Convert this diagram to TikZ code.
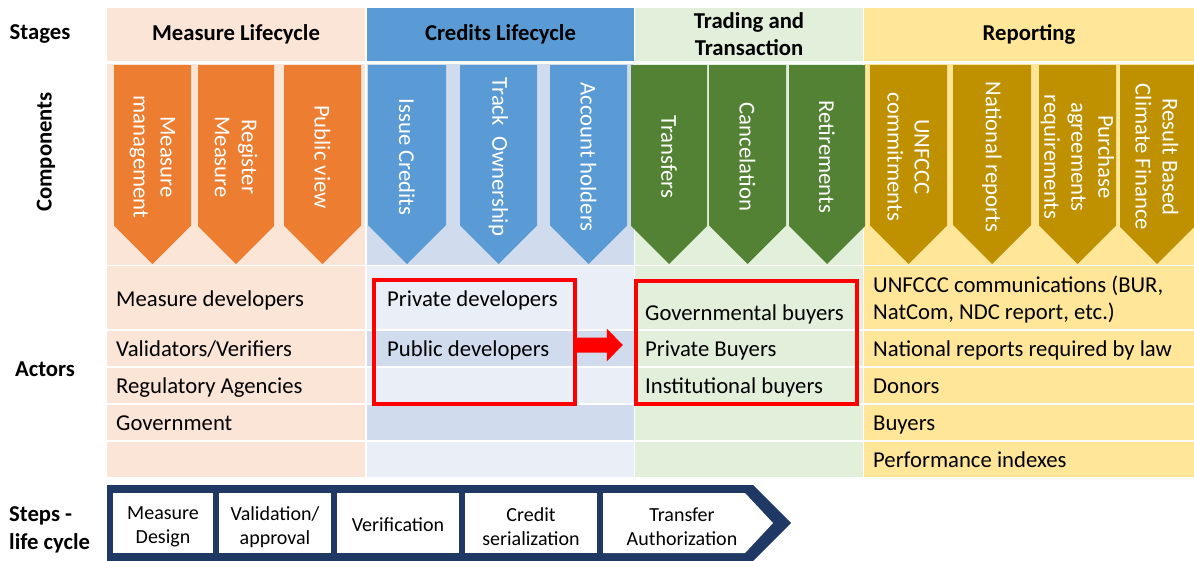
\documentclass[tikz,border=0pt]{standalone}
\usepackage{fontspec}
\setmainfont{Carlito}
\definecolor{measurebg}{HTML}{FBE5D6}
\definecolor{measurearr}{HTML}{ED7D31}
\definecolor{creditshead}{HTML}{5B9BD5}
\definecolor{creditdark}{HTML}{D0DCEE}
\definecolor{creditlight}{HTML}{E9EEF7}
\definecolor{tradebg}{HTML}{E2EFDA}
\definecolor{tradearr}{HTML}{548235}
\definecolor{reportbg}{HTML}{FFE699}
\definecolor{reportarr}{HTML}{BF9000}
\definecolor{stepnavy}{HTML}{203864}
\newcommand{\comparrow}[5]{%
  \fill[#3] (#1,65) -- (#2,65) -- (#2,{264-(#2-#1)/2}) -- ({(#1+#2)/2},264) -- (#1,{264-(#2-#1)/2}) -- cycle;
  \node[comptext] (#4) at ({(#1+#2)/2},157) {#5};}
\begin{document}
\begin{tikzpicture}[x=1pt, y=-1pt,
    every node/.style={font=\fontsize{22.7}{27}\selectfont, inner sep=0pt},
    stagehead/.style={font=\fontsize{22.7}{27}\selectfont\bfseries, align=center, minimum height=53pt},
    rowlabel/.style={anchor=west, text height=17.5pt, text depth=2.5pt},
    comptext/.style={rotate=-90, text=white, align=center},
    sidelabel/.style={font=\fontsize{22.7}{28}\selectfont\bfseries},
    stepbox/.style={fill=white, minimum height=60pt},
    steptext/.style={align=center, font=\fontsize{20}{24}\selectfont},
    redbox/.style={draw=red, line width=3.5pt, minimum width=201pt, minimum height=124pt}]
  \useasboundingbox (0,0) rectangle (1194,560);

  \node[stagehead, fill=measurebg, minimum width=258pt] (hmeasure) at (236,34.5) {Measure Lifecycle};
  \node[stagehead, fill=creditshead, minimum width=267pt] (hcredits) at (500.5,34.5) {Credits Lifecycle};
  \node[stagehead, fill=tradebg, minimum width=228pt] (htrade) at (749,34.5) {Trading and\\Transaction};
  \node[stagehead, fill=reportbg, minimum width=330pt] (hreport) at (1029,34.5) {Reporting};

  \fill[measurebg] (107,64) rectangle (365,477);
  \fill[creditdark] (367,64) rectangle (634,477);
  \fill[creditlight] (367,266) rectangle (634,330);
  \fill[creditlight] (367,367) rectangle (634,404);
  \fill[creditlight] (367,441) rectangle (634,477);
  \fill[tradebg] (635,64) rectangle (863,477);
  \fill[reportbg] (864,64) rectangle (1194,477);
  \foreach \y in {265.5,330,367,404,441}
    \draw[white, line width=1.5pt] (107,\y) -- (1194,\y);

  \comparrow{114}{191}{measurearr}{cmanage}{Measure\\management}
  \comparrow{198}{274}{measurearr}{cregister}{Register\\Measure}
  \comparrow{284}{361}{measurearr}{cpublic}{Public view}
  \comparrow{368}{446}{creditshead}{cissue}{Issue Credits}
  \comparrow{460}{537}{creditshead}{ctrack}{Track\ \ Ownership}
  \comparrow{550}{627}{creditshead}{caccount}{Account holders}
  \comparrow{631}{707}{tradearr}{ctransfer}{Transfers}
  \comparrow{709}{786}{tradearr}{ccancel}{Cancelation}
  \comparrow{789}{865}{tradearr}{cretire}{Retirements}
  \comparrow{870}{947}{reportarr}{cunfccc}{UNFCCC\\commitments}
  \comparrow{953}{1031}{reportarr}{cnational}{National reports}
  \comparrow{1039}{1116}{reportarr}{cpurchase}{Purchase\\agreements\\requirements}
  \comparrow{1120}{1194}{reportarr}{cresult}{Result Based\\Climate Finance}

  \node[rowlabel] (amdev) at (116,298.5) {Measure developers};
  \node[rowlabel] (aval) at (116,349) {Validators/Verifiers};
  \node[rowlabel] (areg) at (116,386) {Regulatory Agencies};
  \node[rowlabel] (agov) at (116,423) {Government};
  \node[rowlabel] (aprivdev) at (387,298.5) {Private developers};
  \node[rowlabel] (apubdev) at (387,349) {Public developers};
  \node[rowlabel] (agovbuy) at (645,313) {Governmental buyers};
  \node[rowlabel] (aprivbuy) at (645,349) {Private Buyers};
  \node[rowlabel] (ainstbuy) at (645,386) {Institutional buyers};
  \node[anchor=west, align=left] (aunfccc) at (873,300) {UNFCCC communications (BUR,\\NatCom, NDC report, etc.)};
  \node[rowlabel] (anatrep) at (873,349) {National reports required by law};
  \node[rowlabel] (adonors) at (873,386) {Donors};
  \node[rowlabel] (abuyers) at (873,423) {Buyers};
  \node[rowlabel] (aperf) at (873,460) {Performance indexes};

  \node[redbox] (devbox) at (474.5,342) {};
  \node[redbox, minimum width=221pt, minimum height=123pt] (buybox) at (746.5,342.5) {};
  \fill[red] ([yshift=-3pt]devbox.east) ++(0,-7.5) -- ++(30,0) -- ++(0,-9) -- ++(16,16.5)
    -- ++(-16,16.5) -- ++(0,-9) -- ++(-30,0) -- cycle;

  \fill[stepnavy] (107,485) -- (753,485) -- (791,523) -- (753,561) -- (107,561) -- cycle;
  \node[stepbox, minimum width=100pt] (sdesign) at (163,523) {};
  \node[stepbox, minimum width=112pt] (svalid) at (275,523) {};
  \node[stepbox, minimum width=122pt] (sverif) at (398,523) {};
  \node[stepbox, minimum width=132pt] (sserial) at (531,523) {};
  \fill[white] (603,493) -- (745,493) -- (773,523) -- (745,553) -- (603,553) -- cycle;
  \node[steptext] (tdesign) at ([yshift=-4pt]sdesign) {Measure\\Design};
  \node[steptext] (tvalid) at ([yshift=-4pt]svalid) {Validation/\\approval};
  \node[steptext] (tverif) at ([yshift=-2pt]sverif) {Verification};
  \node[steptext] (tserial) at ([yshift=-4pt]sserial) {Credit\\serialization};
  \node[steptext] (ttransfer) at (682,527) {Transfer\\Authorization};

  \node[sidelabel] (lstages) at (40,34) {Stages};
  \node[sidelabel, rotate=90] (lcomp) at (46,152) {Components};
  \node[sidelabel] (lactors) at (45,369) {Actors};
  \node[sidelabel, anchor=west, align=left] (lsteps) at (9,530) {Steps -\\life cycle};
\end{tikzpicture}
\end{document}
